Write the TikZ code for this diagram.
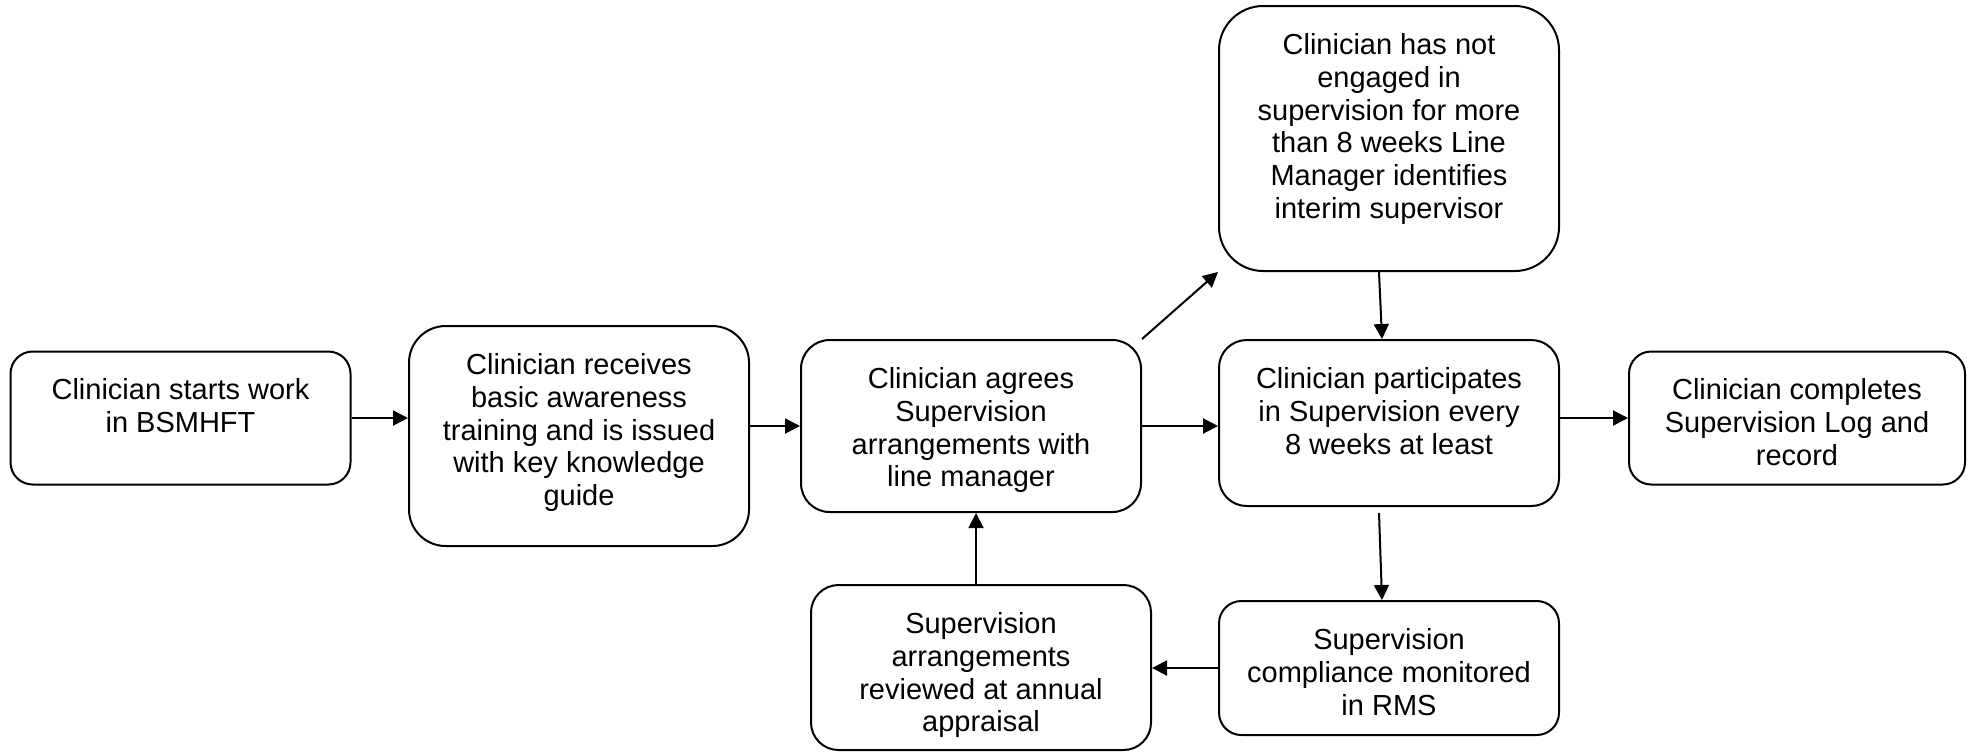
\documentclass[tikz,border=0pt]{standalone}
\usepackage{fontspec}
\setmainfont{Liberation Sans}
\usetikzlibrary{arrows.meta,positioning,calc}

\tikzset{
  box/.style={draw, line width=1pt, minimum width=170pt, minimum height=#1,
    rounded corners=#1/6, inner sep=0pt},
  txt/.style={align=center, inner sep=0pt,
    font=\fontsize{14.5pt}{16.4pt}\selectfont},
  arr/.style={line width=1pt, -{Triangle[length=7.5pt,width=7.5pt]}}
}

\begin{document}
\begin{tikzpicture}[x=0.5pt,y=-0.5pt]
  \useasboundingbox (0,0) rectangle (1968,752);

  % boxes, centres in pixels of the flow chart
  \node[box=66.5pt] (start) at (180.5,418) {};
  \node[box=110pt] (training) at (579,436) {};
  \node[box=86pt] (agree) at (971,426) {};
  \node[box=132.5pt] (interim) at (1389,138.5) {};
  \node[box=83pt] (participate) at (1389,423) {};
  \node[box=66.5pt, minimum width=168pt] (log) at (1797,418) {};
  \node[box=67pt] (monitor) at (1389,668) {};
  \node[box=82.5pt] (review) at (981,667.5) {};

  % texts, hanging from the top of each box
  \node[txt, below=14pt of start.north] (startT) {Clinician starts work\\in BSMHFT};
  \node[txt, below=14pt of training.north] (trainingT) {Clinician receives\\basic awareness\\training and is issued\\with key knowledge\\guide};
  \node[txt, below=14pt of agree.north] (agreeT) {Clinician agrees\\Supervision\\arrangements with\\line manager};
  \node[txt, below=14pt of interim.north] (interimT) {Clinician has not\\engaged in\\supervision for more\\than 8 weeks Line\\Manager identifies\\interim supervisor};
  \node[txt, below=14pt of participate.north] (participateT) {Clinician participates\\in Supervision every\\8 weeks at least};
  \node[txt, below=14pt of log.north] (logT) {Clinician completes\\Supervision Log and\\record};
  \node[txt, below=14pt of monitor.north] (monitorT) {Supervision\\compliance monitored\\in RMS};
  \node[txt, below=14pt of review.north] (reviewT) {Supervision\\arrangements\\reviewed at annual\\appraisal};

  % main row
  \draw[arr] (start.east) -- (training.west |- start.east);
  \draw[arr] (training.east |- agree.west) -- (agree.west);
  \draw[arr] (agree.east) -- (participate.west |- agree.east);
  \draw[arr] (participate.east |- log.west) -- (log.west);

  % escalation branch
  \draw[arr] (agree.north east) -- (interim.south west);
  \draw[arr] ($(interim.south)+(-10,0)$) -- ($(participate.north)+(-7,0)$);

  % monitoring loop
  \coordinate (monStart) at ($(participate.south)+(-10,6)$);
  \draw[arr] (monStart) -- ($(monitor.north)+(-7,0)$);
  \draw[arr] (monitor.west) -- (review.east |- monitor.west);
  \draw[arr] ($(review.north)+(-5,0)$) -- ($(agree.south)+(5,0)$);
\end{tikzpicture}
\end{document}
